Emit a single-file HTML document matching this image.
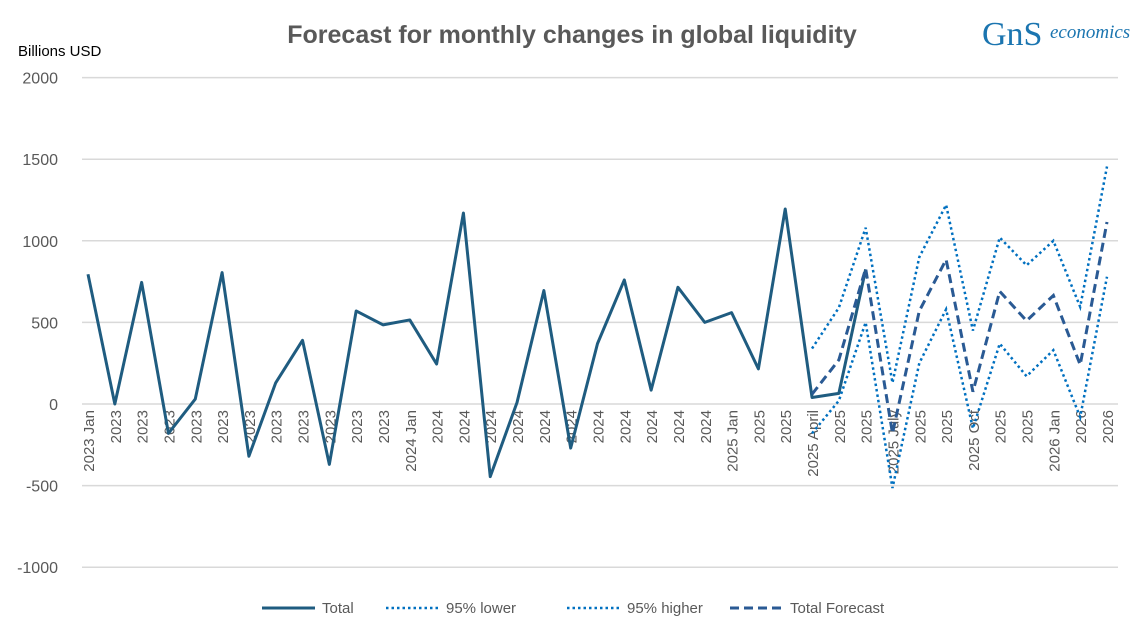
<!DOCTYPE html>
<html><head><meta charset="utf-8"><style>
body{margin:0;background:#fff;font-family:"Liberation Sans",sans-serif}
</style></head><body>
<svg id="c" width="1144" height="639" xmlns="http://www.w3.org/2000/svg">
<text x="572" y="43" text-anchor="middle" font-size="25" font-weight="bold" fill="#595959">Forecast for monthly changes in global liquidity</text>
<text x="18" y="56" font-size="15" fill="#000">Billions USD</text>
<g>
<text x="982" y="45" font-size="34" fill="#1b75b0" font-family="Liberation Serif,serif">GnS</text>
<text x="1050" y="38" font-size="19" font-style="italic" fill="#1b75b0" font-family="Liberation Serif,serif">economics</text>
</g>
<g id="grid"></g><g id="xl"></g><g id="series"></g>
<g font-size="15" fill="#595959">
<line x1="262" y1="608" x2="315" y2="608" stroke="#1f5c80" stroke-width="3"/><text x="322" y="613">Total</text>
<line x1="386" y1="608" x2="439" y2="608" stroke="#0070c0" stroke-width="2.5" stroke-dasharray="2.5,3"/><text x="446" y="613">95% lower</text>
<line x1="567" y1="608" x2="620" y2="608" stroke="#0070c0" stroke-width="2.5" stroke-dasharray="2.5,3"/><text x="627" y="613">95% higher</text>
<line x1="730" y1="608" x2="783" y2="608" stroke="#2a5a94" stroke-width="3" stroke-dasharray="9,5"/><text x="790" y="613">Total Forecast</text>
</g>
</svg>
<script>
const total=[795,0,745,-180,30,805,-320,130,390,-370,570,485,515,245,1170,-445,10,695,-270,370,760,85,715,500,560,215,1195,40,65,825];
const lower=[-180,20,500,-515,250,580,-150,370,170,330,-80,780];
const higher=[340,590,1080,130,900,1220,450,1020,850,1000,595,1455];
const forecast=[60,270,830,-180,570,885,75,690,510,665,240,1115];
const fStart=27;
const yTicks=[2000,1500,1000,500,0,-500,-1000];
const N=39;
const labels=[];for(let i=0;i<N;i++)labels.push(['2023','2024','2025','2026'][Math.floor(i/12)]);
labels[0]='2023 Jan';labels[12]='2024 Jan';labels[24]='2025 Jan';labels[27]='2025 April';labels[30]='2025 July';labels[33]='2025 Oct';labels[36]='2026 Jan';
const X=i=>88+i*(1107-88)/38, Y=v=>404-v*0.1632;
const ns='http://www.w3.org/2000/svg';
function mk(t,a,p){const e=document.createElementNS(ns,t);for(const k in a)e.setAttribute(k,a[k]);p.appendChild(e);return e;}
const g=document.getElementById('grid');
yTicks.forEach(v=>{const l=mk('line',{x1:82,x2:1118,y1:Y(v),y2:Y(v),stroke:'#d9d9d9','stroke-width':1.5},g);


const t=mk('text',{x:58,y:Y(v)+6,'text-anchor':'end','font-size':16,fill:'#595959'},g);t.textContent=v;

});
const xl=document.getElementById('xl');
labels.forEach((s,i)=>{const t=mk('text',{transform:`translate(${X(i)+6},410) rotate(-90)`,'text-anchor':'end','font-size':15,fill:'#595959'},xl);t.textContent=s;

});
const sg=document.getElementById('series');
function line(vals,start,attrs,name){const p=mk('polyline',Object.assign({fill:'none',points:vals.map((v,i)=>X(i+start)+','+Y(v)).join(' ')},attrs),sg);

}
line(total,0,{stroke:'#1f5c80','stroke-width':3,'stroke-linejoin':'round'},'total-line');
line(lower,fStart,{stroke:'#0070c0','stroke-width':2.5,'stroke-dasharray':'2.5,3'},'lower-line');
line(higher,fStart,{stroke:'#0070c0','stroke-width':2.5,'stroke-dasharray':'2.5,3'},'higher-line');
line(forecast,fStart,{stroke:'#2a5a94','stroke-width':3,'stroke-dasharray':'9,5'},'forecast-line');
</script>
</body></html>
